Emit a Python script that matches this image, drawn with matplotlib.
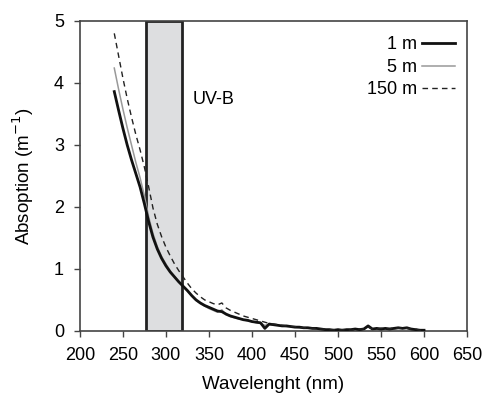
import matplotlib.pyplot as plt
from matplotlib.patches import Rectangle
import numpy as np

plt.rcParams['font.family'] = ['Liberation Sans', 'DejaVu Sans']

# wavelength grid (nm), every 5 nm from 240 to 600
wavelength = np.arange(240, 601, 5)

# absorption (1/m)
abs_1m = [3.86, 3.56, 3.27, 3.00, 2.76, 2.54, 2.32, 2.05, 1.76, 1.51,
          1.32, 1.17, 1.05, 0.95, 0.87, 0.79, 0.72, 0.65, 0.57, 0.50,
          0.45, 0.41, 0.38, 0.35, 0.32, 0.31, 0.27, 0.24, 0.22, 0.20,
          0.18, 0.17, 0.15, 0.14, 0.13, 0.04, 0.11, 0.10, 0.09, 0.08,
          0.08, 0.07, 0.06, 0.06, 0.05, 0.05, 0.04, 0.04, 0.03, 0.02,
          0.02, 0.01, 0.02, 0.01, 0.02, 0.02, 0.03, 0.02, 0.03, 0.08,
          0.03, 0.04, 0.03, 0.04, 0.03, 0.04, 0.05, 0.04, 0.05, 0.03,
          0.02, 0.01, 0.01]
abs_5m = [4.24, 3.90, 3.58, 3.28, 3.00, 2.72, 2.47, 2.18, 1.84, 1.57,
          1.36, 1.20, 1.08, 0.97, 0.88, 0.80, 0.72, 0.64, 0.56, 0.49,
          0.44, 0.40, 0.36, 0.33, 0.30, 0.34, 0.26, 0.23, 0.21, 0.19,
          0.18, 0.16, 0.15, 0.13, 0.12, 0.09, 0.10, 0.09, 0.09, 0.08,
          0.07, 0.07, 0.06, 0.05, 0.05, 0.04, 0.04, 0.03, 0.03, 0.02,
          0.01, 0.02, 0.01, 0.02, 0.01, 0.02, 0.02, 0.03, 0.02, 0.07,
          0.02, 0.03, 0.04, 0.03, 0.04, 0.03, 0.04, 0.05, 0.04, 0.03,
          0.02, 0.02, 0.00]
abs_150m = [4.80, 4.44, 4.08, 3.75, 3.45, 3.17, 2.92, 2.64, 2.32, 1.98,
            1.72, 1.52, 1.35, 1.21, 1.08, 0.97, 0.87, 0.77, 0.68, 0.61,
            0.55, 0.50, 0.47, 0.44, 0.42, 0.45, 0.37, 0.33, 0.30, 0.27,
            0.24, 0.22, 0.20, 0.18, 0.16, 0.14, 0.12, 0.11, 0.10, 0.09,
            0.08, 0.07, 0.07, 0.06, 0.05, 0.05, 0.04, 0.04, 0.03, 0.03,
            0.02, 0.02, 0.01, 0.02, 0.02, 0.01, 0.02, 0.03, 0.03, 0.06,
            0.03, 0.03, 0.04, 0.04, 0.03, 0.05, 0.04, 0.05, 0.04, 0.03,
            0.03, 0.01, 0.01]

uvb_band = (277, 319)

fig = plt.figure(figsize=(4.84, 4.03), dpi=100)
ax = fig.add_axes([0.165, 0.179, 0.80, 0.769])

# UV-B band box
ax.add_patch(Rectangle((uvb_band[0], 0), uvb_band[1] - uvb_band[0], 5,
                       facecolor='#dddee0', edgecolor='#222222', linewidth=2.0, zorder=1))

ax.plot(wavelength, abs_1m, color='#111111', linewidth=2.0, label='1 m', zorder=4)
ax.plot(wavelength, abs_5m, color='#999999', linewidth=1.1, label='5 m', zorder=3)
ax.plot(wavelength, abs_150m, color='#222222', linewidth=1.0, dashes=(4, 3), label='150 m', zorder=5)

ax.text(331, 3.73, 'UV-B', fontsize=13, va='center', ha='left')

ax.set_xlim(200, 650)
ax.set_ylim(0, 5)
ax.set_xticks(range(200, 651, 50))
ax.set_yticks(range(0, 6))

for s in ax.spines.values():
    s.set_color('#444444')
    s.set_linewidth(1.2)
ax.tick_params(direction='out', length=4.5, width=1.0, color='#444444', labelsize=13, pad=7)

ax.set_xlabel('Wavelenght (nm)', fontsize=13.5, labelpad=9)
ax.set_ylabel('Absoption (m$^{-1}$)', fontsize=13.5, labelpad=13)

ax.legend(loc='upper right', bbox_to_anchor=(0.998, 0.985), frameon=False, markerfirst=False,
          fontsize=13, handlelength=1.85, handletextpad=0.3, labelspacing=0.3, borderaxespad=0.2)

fig.savefig('out.png', dpi=100)
